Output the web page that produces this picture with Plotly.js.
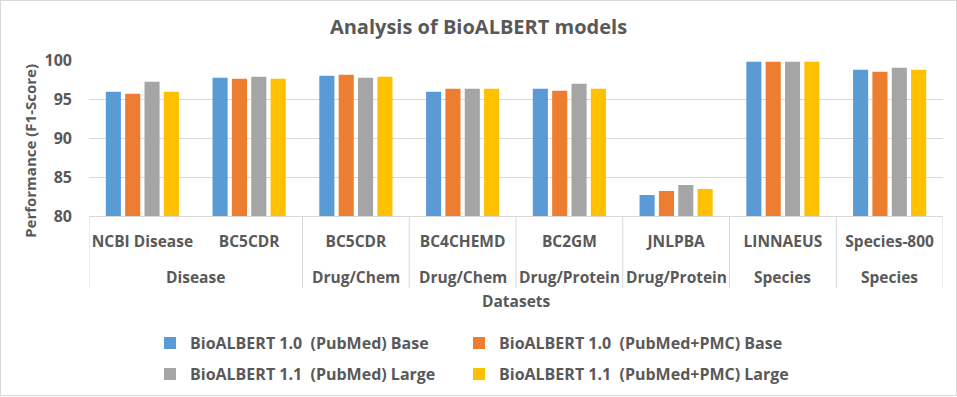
<!DOCTYPE html>
<html>
<head>
<meta charset="utf-8">
<script src="https://cdn.plot.ly/plotly-3.0.1.min.js"></script>
<style>
html,body{margin:0;padding:0;background:#fff;}
#wrap{position:absolute;left:0;top:0;width:957px;height:396px;border:1px solid #d9d9d9;box-sizing:border-box;}
#chart{width:955px;height:394px;}
</style>
</head>
<body>
<div id="wrap"><div id="chart"></div></div>
<script>
const datasets = ["NCBI Disease", "BC5CDR", "BC5CDR", "BC4CHEMD", "BC2GM", "JNLPBA", "LINNAEUS", "Species-800"];
const entityTypes = ["Disease", "Disease", "Drug/Chem", "Drug/Chem", "Drug/Protein", "Drug/Protein", "Species", "Species"];
const seriesNames = [
  "BioALBERT 1.0\u00a0 (PubMed) Base",
  "BioALBERT 1.0\u00a0 (PubMed+PMC) Base",
  "BioALBERT 1.1\u00a0 (PubMed) Large",
  "BioALBERT 1.1\u00a0 (PubMed+PMC) Large"
];
const base10PubMed    = [95.93, 97.73, 97.99, 95.93, 96.31, 82.70, 99.78, 98.75];
const base10PubMedPMC = [95.67, 97.60, 98.12, 96.31, 96.06, 83.21, 99.78, 98.49];
const large11PubMed   = [97.21, 97.85, 97.73, 96.31, 96.96, 83.98, 99.78, 99.01];
const large11PubMedPMC= [95.93, 97.60, 97.85, 96.31, 96.31, 83.47, 99.78, 98.75];
const yTicks = [80, 85, 90, 95, 100];

const colors = ["#5B9BD5", "#ED7D31", "#A5A5A5", "#FFC000"];
const seriesValues = [base10PubMed, base10PubMedPMC, large11PubMed, large11PubMedPMC];
const legendFor = ["legend", "legend2", "legend", "legend2"];
const idx = datasets.map((_, i) => i);

const FONT = "'Open Sans', Lato, sans-serif";
const TXT = "#595959";

const traces = seriesValues.map((vals, k) => ({
  type: "bar",
  name: seriesNames[k],
  x: idx,
  y: vals,
  marker: {color: colors[k]},
  legend: legendFor[k],
  legendgroup: "g" + k,
  hoverinfo: "y+name"
}));

const W = 955, H = 394;
const L = 88, R = 13, T = 59.3, B = 179;
const plotH = H - T - B, plotW = W - L - R;
function py(pageY){ return (H - B - (pageY - 1)) / plotH; } // page y -> paper y
function px(pageX){ return ((pageX - 1) - L) / plotW; }     // page x -> paper x

// category boundaries (no divider inside the Disease group)
const shapes = [];
for (let b = 0; b <= datasets.length; b++) {
  if (b > 0 && b < datasets.length && entityTypes[b - 1] === "Disease" && entityTypes[b] === "Disease") continue;
  shapes.push({type: "line", xref: "x", yref: "paper", x0: b - 0.5, x1: b - 0.5,
    y0: 0, y1: py(288), line: {color: "#d9d9d9", width: 1}});
}

const LBL = {family: FONT, size: 15.5, color: TXT, weight: 700};

// group row labels
const annotations = [];
const groupSpans = [[0, 1], [2, 2], [3, 3], [4, 4], [5, 5], [6, 6], [7, 7]];
groupSpans.forEach(([a, b]) => {
  annotations.push({xref: "x", yref: "paper", x: (a + b) / 2, y: py(277), text: entityTypes[a],
    showarrow: false, xanchor: "center", yanchor: "middle", font: LBL});
});
annotations.push({xref: "paper", yref: "paper", x: 0.5, y: py(301), text: "Datasets",
  showarrow: false, xanchor: "center", yanchor: "middle", font: LBL});
annotations.push({xref: "paper", yref: "paper", x: px(30), y: py(151), text: "Performance (F1-Score)",
  textangle: -90, showarrow: false, xanchor: "center", yanchor: "middle",
  font: {family: FONT, size: 15, color: TXT, weight: 700}});

const legendCommon = {orientation: "v", tracegroupgap: 7, bgcolor: "rgba(0,0,0,0)",
  xanchor: "left", yanchor: "top",
  font: {family: FONT, size: 16, color: TXT, weight: 700}};

const layout = {
  width: W, height: H,
  margin: {l: L, r: R, t: T, b: B, autoexpand: false},
  paper_bgcolor: "#fff", plot_bgcolor: "#fff",
  font: {family: FONT, color: TXT},
  title: {text: "Analysis of BioALBERT models", x: 0.5, xanchor: "center",
    y: 1 - 26 / H, yanchor: "middle", yref: "container",
    font: {family: FONT, size: 20, color: TXT, weight: 700}},
  barmode: "group", bargap: 0.275, bargroupgap: 0.22,
  xaxis: {range: [-0.5, datasets.length - 0.5], tickmode: "array", tickvals: idx, ticktext: datasets,
    showgrid: false, zeroline: false, showline: true, linecolor: "#d9d9d9", linewidth: 1,
    ticks: "", ticklabelstandoff: 11, tickangle: 0, automargin: false, fixedrange: true,
    tickfont: LBL},
  yaxis: {range: [80, 100], tickmode: "array", tickvals: yTicks, ticktext: yTicks.map(String),
    showgrid: true, gridcolor: "#d9d9d9", gridwidth: 1, zeroline: false, showline: false,
    ticks: "", ticklabelstandoff: 16, automargin: false, fixedrange: true,
    tickfont: {family: FONT, size: 16, color: TXT, weight: 700}},
  legend: Object.assign({x: px(150), y: py(326)}, legendCommon),
  legend2: Object.assign({x: px(459), y: py(326)}, legendCommon),
  shapes: shapes,
  annotations: annotations
};

Plotly.newPlot("chart", traces, layout, {displayModeBar: false});
</script>
</body>
</html>
